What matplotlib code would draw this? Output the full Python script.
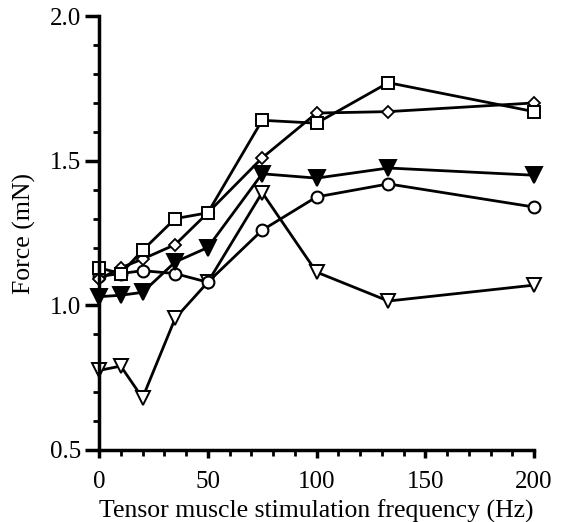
import matplotlib
matplotlib.use("Agg")
import matplotlib.pyplot as plt
from matplotlib.ticker import MultipleLocator, FormatStrFormatter

plt.rcParams['font.family'] = ['Liberation Serif', 'DejaVu Serif']

freq = [0, 10, 20, 35, 50, 75, 100, 133, 200]
square = [1.13, 1.11, 1.19, 1.30, 1.32, 1.64, 1.63, 1.77, 1.67]
diamond = [1.09, 1.13, 1.16, 1.21, 1.32, 1.51, 1.665, 1.67, 1.70]
tri_filled = [1.03, 1.035, 1.045, 1.15, 1.20, 1.455, 1.44, 1.475, 1.45]
circle = [1.10, 1.11, 1.12, 1.11, 1.08, 1.26, 1.375, 1.42, 1.34]
tri_open = [0.775, 0.79, 0.68, 0.955, 1.08, 1.39, 1.115, 1.015, 1.07]

fig = plt.figure(figsize=(5.61, 5.22), dpi=100)
ax = fig.add_axes([0.1765, 0.138, 0.7755, 0.831])

lw = 2.0
ax.plot(freq, tri_open, color='black', lw=lw, marker='v', ms=9.5, mfc='white', mec='black', mew=1.4, zorder=3)
ax.plot(freq, circle, color='black', lw=lw, marker='o', ms=8.5, mfc='white', mec='black', mew=1.5, zorder=4)
ax.plot(freq, tri_filled, color='black', lw=lw, marker='v', ms=11.5, mfc='black', mec='black', mew=1.4, zorder=5)
ax.plot(freq, diamond, color='black', lw=lw, marker='D', ms=6, mfc='white', mec='black', mew=1.3, zorder=6)
ax.plot(freq, square, color='black', lw=lw, marker='s', ms=9, mfc='white', mec='black', mew=1.4, zorder=7)

ax.set_xlim(0, 200)
ax.set_ylim(0.5, 2.0)
for s in ['top', 'right']:
    ax.spines[s].set_visible(False)
for s in ['left', 'bottom']:
    ax.spines[s].set_linewidth(2.5)

ax.xaxis.set_major_locator(MultipleLocator(50))
ax.xaxis.set_minor_locator(MultipleLocator(10))
ax.yaxis.set_major_locator(MultipleLocator(0.5))
ax.yaxis.set_minor_locator(MultipleLocator(0.1))
ax.tick_params(which='major', direction='out', width=2.5, labelsize=18)
ax.tick_params(axis='y', which='major', length=10, pad=3)
ax.tick_params(axis='x', which='major', length=5.5, pad=9.5)
ax.tick_params(which='minor', direction='out', length=4, width=2)
ax.yaxis.set_major_formatter(FormatStrFormatter('%.1f'))

ax.set_xlabel('Tensor muscle stimulation frequency (Hz)', fontsize=18.5, labelpad=5)
ax.set_ylabel('Force (mN)', fontsize=18.5, labelpad=10)

for sp in ax.spines.values():
    sp.set_zorder(10)
for l in ax.lines:
    l.set_clip_on(False)

fig.savefig('out.png', dpi=100)
